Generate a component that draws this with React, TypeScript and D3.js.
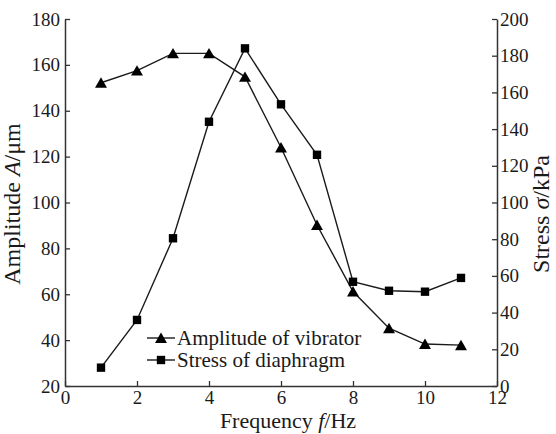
import React, { useEffect, useRef } from "react";
import * as d3 from "d3";

const frequency = [1, 2, 3, 4, 5, 6, 7, 8, 9, 10, 11];
const amplitude = [152.2, 157.5, 165, 165, 154.8, 124, 90.2, 61.2, 45.2, 38.3, 37.8];
const stress = [10, 36, 80.5, 144, 184, 153.5, 126, 56.8, 51.9, 51.4, 58.9];

const xTicks = [0, 2, 4, 6, 8, 10, 12];
const leftTicks = [20, 40, 60, 80, 100, 120, 140, 160, 180];
const rightTicks = [0, 20, 40, 60, 80, 100, 120, 140, 160, 180, 200];

const legendLabels = ["Amplitude of vibrator", "Stress of diaphragm"];

const App: React.FC = () => {
  const ref = useRef<SVGSVGElement>(null);

  useEffect(() => {
    const width = 556;
    const height = 434;
    const margin = { top: 19, right: 59, bottom: 48, left: 65 };
    const font = "Liberation Serif";
    const ink = "#1a1a1a";

    const svg = d3.select(ref.current);
    svg.selectAll("*").remove();
    svg.attr("width", width).attr("height", height).attr("font-family", font);

    const x = d3
      .scaleLinear()
      .domain([0, 12])
      .range([margin.left, width - margin.right]);
    const yL = d3
      .scaleLinear()
      .domain([20, 180])
      .range([height - margin.bottom, margin.top]);
    const yR = d3
      .scaleLinear()
      .domain([0, 200])
      .range([height - margin.bottom, margin.top]);

    const styleAxis = (g: d3.Selection<SVGGElement, unknown, null, undefined>) => {
      g.attr("font-family", font).attr("font-size", 19);
      g.selectAll("path").attr("stroke", "#333").attr("stroke-width", 1.5);
      g.selectAll("line").attr("stroke", "#333").attr("stroke-width", 1.3);
      g.selectAll("text").attr("fill", ink);
    };

    // bottom axis
    svg
      .append("g")
      .attr("transform", `translate(0,${height - margin.bottom})`)
      .call(d3.axisBottom(x).tickValues(xTicks).tickSizeInner(-5).tickSizeOuter(0).tickPadding(5))
      .call(styleAxis);

    // left axis
    svg
      .append("g")
      .attr("transform", `translate(${margin.left},0)`)
      .call(d3.axisLeft(yL).tickValues(leftTicks).tickSizeInner(-5).tickSizeOuter(0).tickPadding(5))
      .call(styleAxis);

    // right axis
    svg
      .append("g")
      .attr("transform", `translate(${width - margin.right},0)`)
      .call(d3.axisRight(yR).tickValues(rightTicks).tickSizeInner(-5).tickSizeOuter(0).tickPadding(3))
      .call(styleAxis);

    // axis titles
    const title = (tx: number, ty: number, rot: number, size: number, parts: [string, boolean][]) => {
      const t = svg
        .append("text")
        .attr("transform", `translate(${tx},${ty}) rotate(${rot})`)
        .attr("text-anchor", "middle")
        .attr("fill", ink)
        .attr("font-family", font)
        .attr("font-size", size);
      parts.forEach(([s, it]) => {
        t.append("tspan").text(s).attr("font-style", it ? "italic" : "normal");
      });
    };
    title(288, 428, 0, 22, [["Frequency ", false], ["f", true], ["/Hz", false]]);
    title(20, 204, -90, 24, [["Amplitude ", false], ["A", true], ["/\u03bcm", false]]);
    title(549, 214, -90, 24, [["Stress ", false], ["\u03c3", true], ["/kPa", false]]);

    const pts = (vals: number[], y: d3.ScaleLinear<number, number>) =>
      frequency.map((f, i) => [x(f), y(vals[i])] as [number, number]);

    const line = d3.line();
    const tri = d3.symbol(d3.symbolTriangle, 62);
    const sq = d3.symbol(d3.symbolSquare, 70);

    const series = [
      { p: pts(amplitude, yL), sym: tri, dy: 1.5 },
      { p: pts(stress, yR), sym: sq, dy: 0 },
    ];

    series.forEach((s) => {
      svg
        .append("path")
        .attr("d", line(s.p))
        .attr("fill", "none")
        .attr("stroke", ink)
        .attr("stroke-width", 1.4);
      svg
        .selectAll(null)
        .data(s.p)
        .enter()
        .append("path")
        .attr("transform", (d) => `translate(${d[0]},${d[1] + s.dy})`)
        .attr("d", s.sym())
        .attr("fill", "#000");
    });

    // legend
    const lg = svg.append("g").attr("transform", "translate(147,338)");
    legendLabels.forEach((lab, i) => {
      const row = lg.append("g").attr("transform", `translate(0,${i * 22})`);
      row
        .append("line")
        .attr("x1", 0)
        .attr("x2", 28)
        .attr("stroke", ink)
        .attr("stroke-width", 1.4);
      row
        .append("path")
        .attr("transform", `translate(14,${i === 0 ? 1.5 : 0})`)
        .attr("d", (i === 0 ? tri : sq)())
        .attr("fill", "#000");
      row
        .append("text")
        .attr("x", 30)
        .attr("dy", "0.35em")
        .attr("fill", ink)
        .attr("font-family", font)
        .attr("font-size", 21)
        .text(lab);
    });
  }, []);

  return (
    <svg
      ref={ref}
      style={{ position: "absolute", left: 0, top: 0, display: "block", background: "#fff" }}
    ></svg>
  );
};

export default App;
